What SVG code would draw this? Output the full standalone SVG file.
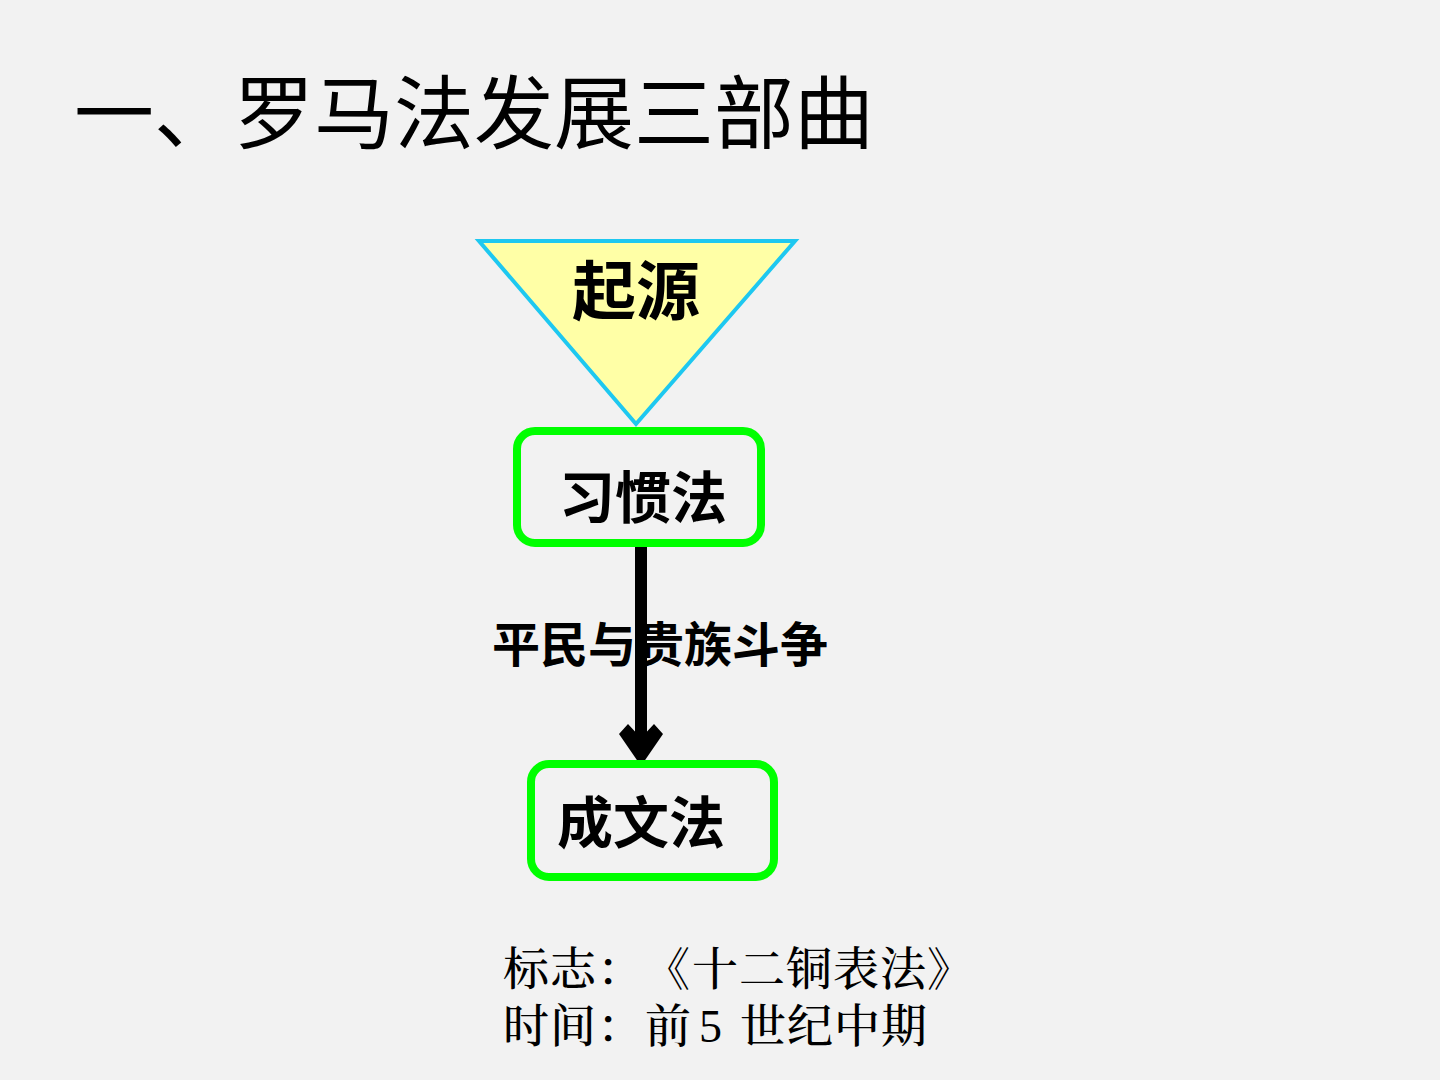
<svg xmlns="http://www.w3.org/2000/svg" width="1440" height="1080" viewBox="0 0 1440 1080">
<style>
.cjk{font-family:"Liberation Sans","Noto Sans CJK SC",sans-serif;}
.b{font-weight:bold;fill:#000;}
.box{fill:none;stroke:#00FF00;stroke-width:8;}
.ser{font-family:"Liberation Serif","Noto Serif CJK SC","Noto Sans CJK SC",serif;font-size:46px;font-weight:500;fill:#000;}
</style>
<rect width="1440" height="1080" fill="#F2F2F2"/>
<text class="cjk" x="74 154 234 314 394 474 554 634 714" y="142" font-size="80" fill="#000">一、罗马法发展三部曲</text>
<g id="connectors">
<line x1="641" y1="543" x2="641" y2="750" stroke="#000" stroke-width="12"/>
<polygon points="641,766 619,734 628,724 641,738 654,724 663,734" fill="#000"/>
</g>
<g id="origin">
<polygon points="479,241 795,241 636,424" fill="#FFFFA6" stroke="#1EC8F0" stroke-width="4"/>
<text class="cjk b" x="636" y="314" font-size="64" text-anchor="middle">起源</text>
</g>
<g id="customary">
<rect class="box" x="517" y="431" width="244" height="112" rx="18"/>
<text class="cjk b" x="643" y="518" font-size="56" text-anchor="middle">习惯法</text>
</g>
<g id="label">
<text class="cjk b" x="660" y="662" font-size="48" text-anchor="middle">平民与贵族斗争</text>
</g>
<g id="written">
<rect class="box" x="531" y="764" width="243" height="113" rx="18"/>
<text class="cjk b" x="641" y="843" font-size="56" text-anchor="middle">成文法</text>
</g>
<g id="notes">
<text class="ser" x="503 550 597 644 692 739 786 833 880 927" y="985">标志：《十二铜表法》</text>
<text class="ser" xml:space="preserve" x="503 550 597 645 692 699 722 740 787 834 881" y="1042">时间：前 5 世纪中期</text>
</g>
</svg>
